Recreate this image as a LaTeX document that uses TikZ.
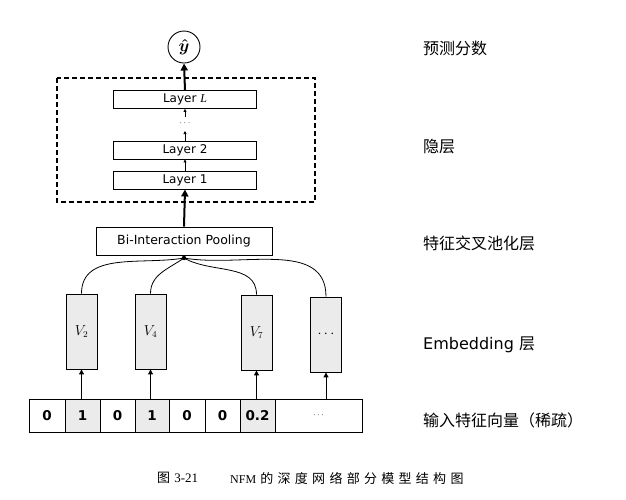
\documentclass[tikz,border=0pt]{standalone}
\usepackage{fontspec}
\setmainfont{DejaVu Sans}
\newfontfamily\cjk{Noto Sans CJK SC}
\newfontfamily\capcjk[LetterSpace=33]{Noto Sans CJK SC}
\newfontfamily\capser{Liberation Serif}
\usetikzlibrary{arrows.meta}
\begin{document}
\begin{tikzpicture}[x=1pt,y=-1pt,
  layerbox/.style={draw,line width=0.9pt,minimum width=143pt,minimum height=18pt,inner sep=0pt,font=\fontsize{12}{12}\selectfont},
  vbox/.style={draw,line width=0.9pt,fill=black!8,minimum width=31pt,minimum height=75pt,inner sep=0pt,font=\fontsize{13.5}{14}\selectfont},
  cell/.style={draw,line width=0.5pt,minimum height=33pt,inner sep=0pt,font=\fontsize{13.5}{16}\selectfont\bfseries},
  shcell/.style={cell,fill=black!8},
  thickarr/.style={line width=2pt,-{Triangle[length=7pt,width=7pt]}},
  thinarr/.style={line width=0.6pt,-{Triangle[length=3pt,width=3pt]}},
  inarr/.style={line width=1pt,-{Triangle[length=5pt,width=5pt]}},
  curve/.style={line width=0.8pt},
  sidelabel/.style={anchor=west,inner sep=0pt,font=\fontsize{16}{17}\selectfont}
]
\useasboundingbox (0,0) rectangle (626,499);

% output
\node[draw,circle,line width=0.9pt,minimum size=32pt,inner sep=0pt,font=\fontsize{16}{16}\selectfont\boldmath] (yhat) at (184,47) {$\hat{y}$};

% hidden layers
\draw[line width=1.6pt,dash pattern=on 5pt off 3pt] (57,78) rectangle (315,202);
\node[layerbox] (LL) at (185,99.5) {Layer \textit{\capser L}};
\node[layerbox] (L2) at (185,150) {Layer 2};
\node[layerbox] (L1) at (185,180) {Layer 1};
\node[inner sep=0pt,font=\fontsize{9}{9}\selectfont] (dots) at (185,123) {$\cdots$};
\coordinate (dl) at (185,131);
\coordinate (du) at (185,117);

% bi-interaction
\node[draw,line width=0.9pt,minimum width=176pt,minimum height=28pt,inner sep=0pt,font=\fontsize{12.5}{14}\selectfont] (bi) at (184,241) {Bi-Interaction Pooling};

% embedding
\node[vbox] (V2) at (81.5,331.5) {$V_2$};
\node[vbox] (V4) at (150.5,331.5) {$V_4$};
\node[vbox] (V7) at (256.5,332.5) {$V_7$};
\node[vbox] (Vd) at (326,334.5) {$\cdots$};

% input
\node[cell,minimum width=36pt] (c1) at (47,415.5) {0};
\node[shcell,minimum width=35pt] (c2) at (82.5,415.5) {1};
\node[cell,minimum width=35pt] (c3) at (117.5,415.5) {0};
\node[shcell,minimum width=34pt] (c4) at (152,415.5) {1};
\node[cell,minimum width=36pt] (c5) at (187,415.5) {0};
\node[cell,minimum width=35pt] (c6) at (222.5,415.5) {0};
\node[shcell,minimum width=35pt] (c7) at (257.5,415.5) {0.2};
\node[cell,minimum width=87pt,font=\fontsize{9}{9}\selectfont] (c8) at (318.5,415.5) {$\cdots$};

% connectors
\draw[thickarr] (LL.north) -- (yhat.south);
\draw[thickarr] (bi.north) -- (L1.south);
\draw[thinarr] (L1.north) -- (L2.south);
\draw[thinarr] (L2.north) -- (dl);
\draw[thinarr] (du) -- (LL.south);

\coordinate (J) at (184,258);
\fill (J) circle (2.2pt);
\draw[curve] (J) to[out=190,in=90] (V2.north);
\draw[curve] (J) to[out=215,in=90] (V4.north);
\draw[curve] (J) to[out=330,in=90] (V7.north);
\draw[curve] (J) to[out=350,in=90] (Vd.north);

\draw[inarr] (V2.south |- c2.north) -- (V2.south);
\draw[inarr] (V4.south |- c4.north) -- (V4.south);
\draw[inarr] (V7.south |- c7.north) -- (V7.south);
\draw[inarr] (Vd.south |- c8.north) -- (Vd.south);

% side labels
\node[sidelabel] (t1) at (423,48) {\cjk 预测分数};
\node[sidelabel] (t2) at (423,147) {\cjk 隐层};
\node[sidelabel] (t3) at (423,243) {\cjk 特征交叉池化层};
\node[sidelabel] (t4) at (423,345) {Embedding {\cjk 层}};
\node[sidelabel] (t5) at (423,420) {\cjk 输入特征向量（稀疏）};

% caption
\node[anchor=west,inner sep=0pt,font=\fontsize{13}{14}\selectfont] (cap1) at (157,478) {{\cjk 图} {\capser\fontsize{13}{14}\selectfont 3-21}};
\node[anchor=west,inner sep=0pt,font=\fontsize{13}{14}\selectfont] (cap2) at (230,478) {{\capser\fontsize{12}{14}\selectfont NFM} {\capcjk 的深度网络部分模型结构图}};
\end{tikzpicture}
\end{document}
